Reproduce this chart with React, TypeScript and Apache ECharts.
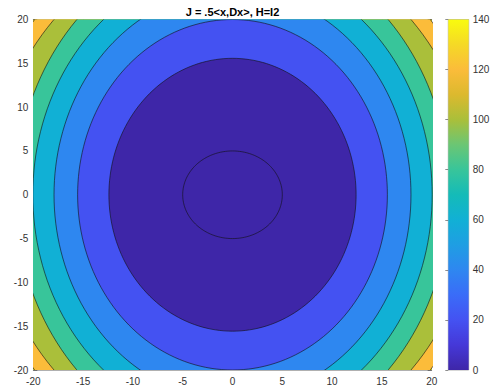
import React, { useEffect, useRef } from "react";
import * as echarts from "echarts";

// Axis ranges / ticks
const X_MIN = -20;
const X_MAX = 20;
const Y_MIN = -20;
const Y_MAX = 20;
const TICK_STEP = 5;

const contourRx = [25.5, 24.27, 21.8, 20.05, 17.92, 15.55, 12.41, 5.0];
const contourRy = [31.9, 29.66, 28.68, 26.2, 23.37, 20.0, 15.57, 5.0];
const insideLevel = [120, 100, 80, 60, 40, 20, 0, 0];
const outerLevel = 140;

// Colour bar
const CB_MIN = 0;
const CB_MAX = 140;
const CB_STEP = 20;
const stopValues = [0, 10, 20, 30, 40, 50, 60, 70, 80, 90, 100, 110, 120, 130, 140];
const stopColors = [
  "#3e26a8", "#4538d8", "#4452f2", "#3a6cf8", "#2e87f0", "#1f9ee3", "#11b0d5",
  "#14bbb8", "#38c59a", "#6bc674", "#aabf3a", "#dcb92e", "#fbbc3a", "#f5d926", "#f9fb0e",
];

const FONT = "Liberation Sans, Arial, Helvetica, sans-serif";

function colorOf(v: number): string {
  const i = stopValues.indexOf(v);
  return i >= 0 ? stopColors[i] : stopColors[0];
}

export default function App() {
  const ref = useRef<HTMLDivElement>(null);
  useEffect(() => {
    document.body.style.margin = "0";
    const chart = echarts.init(ref.current!, undefined, { renderer: "svg" });

    const axisCommon = {
      type: "value" as const,
      interval: TICK_STEP,
      axisLine: { show: true, onZero: false, lineStyle: { color: "#7a7a7a", width: 0.6 } },
      axisTick: { show: true, inside: true, length: 4, lineStyle: { color: "#404040", width: 0.6 } },
      splitLine: { show: false },
      axisLabel: { color: "#333", fontSize: 10, fontFamily: FONT, margin: 6 },
    };

    const contourData = contourRx.map((rx, i) => [rx, contourRy[i], insideLevel[i]]);

    chart.setOption({
      animation: false,
      backgroundColor: "#ffffff",
      graphic: [
        {
          type: "text",
          x: 232.5,
          y: 12,
          style: {
            text: "J = .5<x,Dx>, H=I2",
            fill: "#000",
            font: `bold 11px ${FONT}`,
            textAlign: "center",
            textVerticalAlign: "middle",
          },
        },
      ],
      grid: [
        { left: 33.3, top: 19.5, width: 398.4, height: 350.5 },
        {
          left: 448.3,
          top: 19.5,
          width: 20.4,
          height: 350.5,
          show: true,
          borderColor: "#7a7a7a",
          borderWidth: 0.6,
          backgroundColor: "transparent",
        },
      ],
      xAxis: [
        { ...axisCommon, gridIndex: 0, min: X_MIN, max: X_MAX, position: "bottom" },
        {
          ...axisCommon,
          gridIndex: 0,
          min: X_MIN,
          max: X_MAX,
          position: "top",
          axisLabel: { show: false },
        },
        { type: "value", gridIndex: 1, min: 0, max: 1, show: false },
      ],
      yAxis: [
        { ...axisCommon, gridIndex: 0, min: Y_MIN, max: Y_MAX, position: "left", axisLabel: { ...axisCommon.axisLabel, margin: 5 } },
        {
          ...axisCommon,
          gridIndex: 0,
          min: Y_MIN,
          max: Y_MAX,
          position: "right",
          axisLabel: { show: false },
        },
        {
          type: "value",
          gridIndex: 1,
          min: CB_MIN,
          max: CB_MAX,
          interval: CB_STEP,
          position: "right",
          axisLine: { show: false },
          axisTick: { show: true, inside: true, length: 3, lineStyle: { color: "#404040", width: 0.6 } },
          splitLine: { show: false },
          axisLabel: { color: "#333", fontSize: 10, fontFamily: FONT, margin: 4 },
        },
      ],
      series: [
        {
          type: "custom",
          xAxisIndex: 0,
          yAxisIndex: 0,
          clip: true,
          silent: true,
          data: [[X_MIN, Y_MAX, X_MAX, Y_MIN, outerLevel]],
          renderItem: (_p: any, api: any) => {
            const a = api.coord([api.value(0), api.value(1)]);
            const b = api.coord([api.value(2), api.value(3)]);
            return {
              type: "rect",
              shape: { x: a[0], y: a[1], width: b[0] - a[0], height: b[1] - a[1] },
              style: { fill: colorOf(api.value(4)) },
            };
          },
        },
        {
          type: "custom",
          xAxisIndex: 0,
          yAxisIndex: 0,
          clip: true,
          silent: true,
          data: contourData,
          renderItem: (_p: any, api: any) => {
            const rx = api.value(0);
            const ry = api.value(1);
            const lv = api.value(2);
            const pts: number[][] = [];
            for (let k = 0; k < 360; k += 2) {
              const t = (k * Math.PI) / 180;
              pts.push(api.coord([rx * Math.cos(t), ry * Math.sin(t)]));
            }
            return {
              type: "polygon",
              shape: { points: pts },
              style: { fill: colorOf(lv), stroke: "#111", lineWidth: 0.6 },
            };
          },
        },
        {
          type: "custom",
          xAxisIndex: 2,
          yAxisIndex: 2,
          silent: true,
          data: [[0, CB_MAX, 1, CB_MIN]],
          renderItem: (_p: any, api: any) => {
            const a = api.coord([api.value(0), api.value(1)]);
            const b = api.coord([api.value(2), api.value(3)]);
            return {
              type: "rect",
              shape: { x: a[0], y: a[1], width: b[0] - a[0], height: b[1] - a[1] },
              style: {
                fill: new echarts.graphic.LinearGradient(
                  0,
                  1,
                  0,
                  0,
                  stopValues.map((v, i) => ({
                    offset: (v - CB_MIN) / (CB_MAX - CB_MIN),
                    color: stopColors[i],
                  }))
                ),
              },
            };
          },
        },
      ],
    });
    return () => chart.dispose();
  }, []);
  return <div ref={ref} style={{ width: 493, height: 390 }} />;
}
